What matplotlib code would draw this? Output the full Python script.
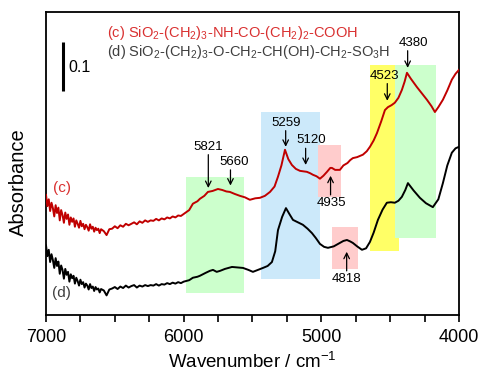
import matplotlib
matplotlib.use("Agg")
import matplotlib.pyplot as plt
from matplotlib.patches import Rectangle
from matplotlib.ticker import MultipleLocator, FixedLocator

plt.rcParams["font.family"] = ["Liberation Sans", "DejaVu Sans"]
plt.rcParams["mathtext.fontset"] = "custom"
plt.rcParams["mathtext.rm"] = "Liberation Sans"

# ---- spectra (wavenumber in cm-1, absorbance with offset) ----
wn_c = [7000, 6990, 6980, 6970, 6960, 6950, 6940, 6930, 6920, 6910, 6900,
        6890, 6880, 6870, 6860, 6850, 6840, 6830, 6820, 6810, 6800, 6790,
        6780, 6770, 6760, 6750, 6740, 6730, 6720, 6710, 6700, 6690, 6680,
        6670, 6660, 6650, 6640, 6630, 6620, 6610, 6600,
        6580, 6560, 6540, 6520, 6500, 6480, 6460, 6440, 6420, 6400, 6380,
        6360, 6340, 6320, 6300, 6280, 6260, 6240, 6220, 6200, 6180, 6160,
        6140, 6120, 6100, 6080, 6060, 6040, 6020, 6000,
        5960, 5933, 5900, 5882, 5850,
        5824, 5790, 5751, 5720, 5690, 5664, 5630, 5591, 5555, 5519, 5480,
        5446, 5410, 5373, 5340, 5315, 5290, 5264, 5240, 5214, 5185, 5155,
        5130, 5105, 5080, 5061, 5035, 5010, 4985, 4959, 4935, 4923, 4900,
        4865, 4840, 4810, 4790, 4771, 4740, 4698, 4670, 4647, 4620, 4596,
        4565, 4538, 4516, 4490, 4466, 4440, 4415, 4395, 4378, 4350, 4306,
        4270, 4233, 4200, 4175, 4150, 4117, 4085, 4052, 4025, 4000]
abs_c = [0.245, 0.222, 0.236, 0.212, 0.229, 0.218, 0.201, 0.224, 0.208, 0.219, 0.193,
         0.214, 0.204, 0.188, 0.209, 0.196, 0.205, 0.184, 0.199, 0.190, 0.197, 0.180,
         0.193, 0.186, 0.178, 0.192, 0.181, 0.186, 0.175, 0.184, 0.179, 0.172, 0.185,
         0.176, 0.180, 0.170, 0.178, 0.173, 0.176, 0.167, 0.175,
         0.171, 0.163, 0.175, 0.176, 0.181, 0.177, 0.183, 0.180, 0.186, 0.183, 0.186,
         0.189, 0.185, 0.191, 0.188, 0.193, 0.190, 0.193, 0.192, 0.196, 0.193, 0.197,
         0.195, 0.199, 0.197, 0.201, 0.199, 0.203, 0.202, 0.206,
         0.214, 0.227, 0.232, 0.237, 0.243,
         0.251, 0.253, 0.257, 0.255, 0.252, 0.251, 0.247, 0.243, 0.240, 0.235, 0.238,
         0.239, 0.243, 0.251, 0.262, 0.282, 0.305, 0.337, 0.318, 0.306, 0.298, 0.294,
         0.293, 0.292, 0.289, 0.286, 0.283, 0.278, 0.284, 0.292, 0.300, 0.300, 0.296,
         0.296, 0.305, 0.310, 0.316, 0.320, 0.322, 0.327, 0.334, 0.343, 0.356, 0.371,
         0.395, 0.418, 0.424, 0.428, 0.433, 0.443, 0.459, 0.476, 0.494, 0.482, 0.465,
         0.452, 0.439, 0.426, 0.414, 0.424, 0.439, 0.458, 0.480, 0.492, 0.500]

wn_d = [7000, 6990, 6980, 6970, 6960, 6950, 6940, 6930, 6920, 6910, 6900,
        6890, 6880, 6870, 6860, 6850, 6840, 6830, 6820, 6810, 6800, 6790,
        6780, 6770, 6760, 6750, 6740, 6730, 6720, 6710, 6700, 6690, 6680,
        6670, 6660, 6650, 6640, 6630, 6620, 6610, 6600,
        6580, 6560, 6540, 6520, 6500, 6480, 6460, 6440, 6420, 6400, 6380,
        6360, 6340, 6320, 6300, 6280, 6260, 6240, 6220, 6200, 6180, 6160,
        6140, 6120, 6100, 6080, 6060, 6040, 6020, 6000,
        5960, 5933, 5900, 5882, 5840,
        5810, 5787, 5760, 5736, 5700, 5649, 5610, 5569, 5530, 5497, 5460,
        5424, 5390, 5359, 5335, 5315, 5285, 5257, 5230, 5206, 5170, 5134,
        5100, 5068, 5040, 5010, 4980, 4952, 4910, 4865, 4840, 4814, 4790,
        4771, 4740, 4705, 4675, 4647, 4620, 4589, 4555, 4524, 4495, 4466,
        4440, 4415, 4390, 4371, 4330, 4284, 4240, 4190, 4150, 4117, 4085,
        4052, 4025, 4000]
abs_d = [0.142, 0.120, 0.133, 0.108, 0.124, 0.112, 0.096, 0.116, 0.100, 0.109, 0.084,
         0.101, 0.092, 0.074, 0.094, 0.082, 0.088, 0.068, 0.083, 0.075, 0.080, 0.064,
         0.076, 0.069, 0.060, 0.072, 0.063, 0.067, 0.056, 0.064, 0.060, 0.052, 0.063,
         0.055, 0.058, 0.049, 0.057, 0.052, 0.054, 0.046, 0.053,
         0.050, 0.040, 0.052, 0.054, 0.057, 0.053, 0.058, 0.055, 0.060, 0.056, 0.059,
         0.061, 0.056, 0.060, 0.058, 0.061, 0.059, 0.061, 0.060, 0.063, 0.060, 0.063,
         0.062, 0.065, 0.063, 0.066, 0.064, 0.067, 0.065, 0.068,
         0.071, 0.076, 0.078, 0.080, 0.086,
         0.090, 0.092, 0.088, 0.090, 0.094, 0.098, 0.097, 0.096, 0.092, 0.088, 0.092,
         0.096, 0.100, 0.108, 0.130, 0.173, 0.200, 0.218, 0.205, 0.194, 0.189, 0.184,
         0.176, 0.167, 0.157, 0.145, 0.139, 0.137, 0.140, 0.147, 0.151, 0.153, 0.150,
         0.147, 0.140, 0.133, 0.136, 0.149, 0.168, 0.194, 0.215, 0.229, 0.230, 0.229,
         0.233, 0.241, 0.255, 0.269, 0.254, 0.239, 0.228, 0.220, 0.236, 0.269, 0.305,
         0.331, 0.340, 0.343]

# ---- highlighted bands: (wn_high, wn_low, abs_bottom, abs_top, colour) ----
band_hi = [5985, 5435, 5022, 4920, 4645, 4464]
band_lo = [5560, 5012, 4855, 4732, 4435, 4167]
band_bottom = [0.045, 0.073, 0.241, 0.094, 0.131, 0.157]
band_top = [0.282, 0.414, 0.347, 0.180, 0.510, 0.510]
band_color = ["#CCFFCC", "#CCE9FA", "#FFCCCC", "#FFCCCC", "#FFFF66", "#CCFFCC"]

# ---- peak annotations: label, arrow x, text x, text y, arrow tail y, arrow tip y ----
peak_label = ["5821", "5660", "5259", "5120", "4935", "4818", "4523", "4380"]
peak_wn = [5821, 5660, 5259, 5114, 4933, 4816, 4521, 4373]
text_wn = [5824, 5632, 5259, 5070, 4930, 4816, 4545, 4333]
text_y = [0.343, 0.312, 0.392, 0.356, 0.229, 0.073, 0.488, 0.555]
tail_y = [0.327, 0.296, 0.376, 0.340, 0.245, 0.090, 0.472, 0.539]
tip_y = [0.259, 0.264, 0.343, 0.306, 0.284, 0.129, 0.437, 0.504]

fig = plt.figure(figsize=(4.8, 3.76), dpi=100)
ax = fig.add_axes([46 / 480, 61 / 376, 413 / 480, 303 / 376])

for hi, lo, b, t, col in zip(band_hi, band_lo, band_bottom, band_top, band_color):
    ax.add_patch(Rectangle((lo, b), hi - lo, t - b, facecolor=col,
                           edgecolor="none", zorder=1))

ax.plot(wn_c, abs_c, color="#C00000", lw=1.4, zorder=3)
ax.plot(wn_d, abs_d, color="black", lw=1.4, zorder=3)

for lab, xw, xt, yt, y0, y1 in zip(peak_label, peak_wn, text_wn, text_y, tail_y, tip_y):
    ax.annotate("", xy=(xw, y1), xytext=(xw, y0),
                arrowprops=dict(arrowstyle="->", color="black", lw=0.9,
                                mutation_scale=10, shrinkA=0, shrinkB=0),
                zorder=4)
    ax.text(xt, yt, lab, ha="center", va="center", fontsize=9.5, zorder=4)

# scale bar for absorbance
ax.plot([6877, 6877], [0.457, 0.557], color="black", lw=2.2, solid_capstyle="butt")
ax.text(6835, 0.504, "0.1", ha="left", va="center", fontsize=11.5)

ax.text(6557, 0.576,
        r"(c) SiO$_\mathregular{2}$-(CH$_\mathregular{2}$)$_\mathregular{3}$-NH-CO-(CH$_\mathregular{2}$)$_\mathregular{2}$-COOH",
        color="#D93030", fontsize=10.5, ha="left", va="center")
ax.text(6557, 0.537,
        r"(d) SiO$_\mathregular{2}$-(CH$_\mathregular{2}$)$_\mathregular{3}$-O-CH$_\mathregular{2}$-CH(OH)-CH$_\mathregular{2}$-SO$_\mathregular{3}$H",
        color="#3F3F3F", fontsize=10.5, ha="left", va="center")
ax.text(6949, 0.259, "(c)", color="#D93030", fontsize=11, ha="left", va="center")
ax.text(6956, 0.045, "(d)", color="#3F3F3F", fontsize=11, ha="left", va="center")

ax.set_xlim(7000, 4000)
ax.set_ylim(0, 0.618)
ax.xaxis.set_major_locator(FixedLocator([7000, 6000, 5000, 4000]))
ax.xaxis.set_minor_locator(MultipleLocator(250))
ax.tick_params(axis="x", which="both", direction="out", length=5, width=1.2,
               labelsize=13, pad=5)
ax.set_yticks([])
for s in ax.spines.values():
    s.set_linewidth(1.3)

ax.set_xlabel(r"Wavenumber / cm$^{\mathregular{-1}}$", fontsize=13.5, labelpad=4)
ax.set_ylabel("Absorbance", fontsize=14.5)
ax.yaxis.set_label_coords(-0.044, 0.439)

fig.savefig("out.png", dpi=100)
